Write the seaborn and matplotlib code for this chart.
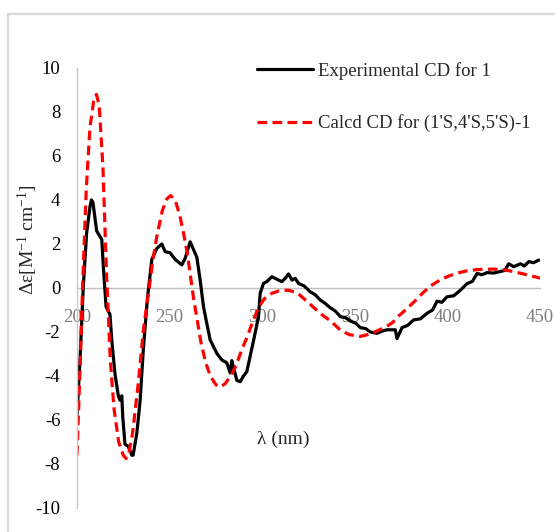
import numpy as np
import pandas as pd
import matplotlib
matplotlib.use("Agg")
import matplotlib.pyplot as plt
from matplotlib.lines import Line2D
import seaborn as sns

# ---- data ----
exp_wl = [200.0, 201.6, 203.4, 205.2, 207.0, 207.8, 208.6, 210.6, 213.4, 214.2, 215.7, 217.8,
          218.8, 220.5, 222.3, 223.2, 224.2, 224.7, 225.9, 227.7, 229.6, 230.3, 232.3, 234.1,
          235.8, 238.0, 240.4, 243.1, 245.8, 247.6, 250.3, 253.0, 256.6, 258.4, 261.1, 264.7,
          266.5, 268.3, 269.7, 271.9, 275.5, 278.2, 280.9, 282.7, 283.6, 284.5, 286.3, 288.1,
          289.9, 291.7, 293.5, 295.3, 298.0, 298.9, 300.7, 302.5, 305.2, 307.0, 308.8, 310.6,
          312.4, 314.2, 316.1, 317.8, 319.6, 322.5, 325.9, 328.5, 331.4, 334.0, 336.8, 339.5,
          342.2, 345.0, 347.6, 350.5, 353.0, 356.0, 358.4, 362.0, 365.0, 367.4, 371.9, 372.8,
          375.5, 378.5, 381.8, 385.5, 389.0, 392.0, 394.4, 397.0, 399.8, 403.5, 407.0, 410.6,
          413.5, 416.1, 418.5, 421.5, 425.0, 428.6, 431.0, 433.1, 435.8, 439.5, 441.5, 444.0,
          446.5, 449.4]
exp_de = [-5.8, -3.3, 0.06, 2.5, 3.7, 4.0, 3.9, 2.6, 2.2, 1.0, -0.85, -1.2,
          -2.4, -3.9, -4.9, -5.1, -4.9, -5.85, -7.1, -7.2, -7.6, -7.6, -6.6, -5.1,
          -2.8, -0.5, 1.3, 1.8, 2.0, 1.65, 1.6, 1.3, 1.05, 1.35, 2.1, 1.4,
          0.36, -0.85, -1.45, -2.36, -2.97, -3.27, -3.4, -3.86, -3.3, -3.6, -4.2, -4.26,
          -4.0, -3.8, -3.1, -2.4, -1.3, -0.24, 0.21, 0.29, 0.51, 0.44, 0.36, 0.29,
          0.44, 0.64, 0.36, 0.44, 0.21, 0.1, -0.17, -0.3, -0.55, -0.7, -0.9, -1.05,
          -1.3, -1.35, -1.5, -1.6, -1.8, -1.85, -2.0, -2.06, -1.95, -1.9, -1.9, -2.3,
          -1.8, -1.7, -1.45, -1.4, -1.15, -1.0, -0.6, -0.65, -0.4, -0.35, -0.1, 0.2,
          0.3, 0.67, 0.6, 0.7, 0.68, 0.75, 0.8, 1.1, 0.97, 1.1, 1.0, 1.2,
          1.15, 1.27]

calc_wl = [200, 201.5, 203, 205, 207, 209, 210.5, 212, 214, 216, 218, 220, 222.5, 225, 226.5,
           228, 230, 233, 236, 239, 241, 243, 246, 248.5, 250.5, 253, 255.5, 257.5, 259.5,
           261.5, 263, 265, 267, 269.5, 272, 275, 277.5, 280, 283, 286, 289, 292, 295, 298,
           301, 305, 309, 314, 319, 324, 328, 332, 337, 342, 347, 353, 358, 362, 366, 370,
           374, 378, 383, 387, 391, 396, 400, 405, 410, 416, 425, 431, 436, 442, 450]
calc_de = [-7.6, -4.0, 0.0, 4.5, 7.3, 8.5, 8.8, 8.3, 5.5, 0.5, -3.3, -5.5, -7.0, -7.6, -7.75,
           -7.5, -6.6, -4.4, -1.8, 0.0, 1.3, 2.3, 3.5, 4.05, 4.2, 4.0, 3.3, 2.5, 1.6,
           0.4, -0.5, -1.5, -2.5, -3.4, -4.0, -4.4, -4.5, -4.35, -4.0, -3.5, -2.8, -2.2, -1.5, -0.9,
           -0.5, -0.25, -0.13, -0.1, -0.22, -0.6, -0.9, -1.2, -1.5, -1.9, -2.12, -2.2, -2.1, -1.95, -1.8, -1.6,
           -1.25, -0.95, -0.55, -0.2, 0.1, 0.36, 0.52, 0.67, 0.77, 0.84, 0.86, 0.82, 0.74, 0.62, 0.45]

x_ticks = [200, 250, 300, 350, 400, 450]
y_ticks = [-10, -8, -6, -4, -2, 0, 2, 4, 6, 8, 10]
label_exp = "Experimental CD for 1"
label_calc = "Calcd CD for (1'S,4'S,5'S)-1"

sns.set_style("white")
plt.rcParams['font.family'] = ['Liberation Serif', 'DejaVu Serif']
plt.rcParams['mathtext.fontset'] = 'custom'
plt.rcParams['mathtext.rm'] = 'Liberation Serif'
plt.rcParams['mathtext.it'] = 'Liberation Serif:italic'
plt.rcParams['mathtext.bf'] = 'Liberation Serif:bold'

W, H = 555, 532
fig = plt.figure(figsize=(W / 100, H / 100), dpi=100)
ax = fig.add_axes([77 / W, (H - 508) / H, (540 - 77) / W, 440 / H])

df_exp = pd.DataFrame({"wl": exp_wl, "de": exp_de})
df_calc = pd.DataFrame({"wl": calc_wl, "de": calc_de})

sns.lineplot(data=df_exp, x="wl", y="de", ax=ax, color="black", linewidth=2.3,
             sort=False, label=label_exp)
sns.lineplot(data=df_calc, x="wl", y="de", ax=ax, color="#ff0000", linewidth=2.3,
             sort=False, label=label_calc)
ax.lines[1].set_dashes([3.0, 1.7])

ax.set_xlim(200, 450)
ax.set_ylim(-10, 10)
ax.set_xticks(x_ticks)
ax.set_yticks(y_ticks)
ax.set_yticklabels([str(v) for v in y_ticks])

for s in ["top", "right"]:
    ax.spines[s].set_visible(False)
ax.spines["left"].set_color("#c8c8c8")
ax.spines["left"].set_linewidth(1.0)
ax.spines["bottom"].set_position(("data", 0))
ax.spines["bottom"].set_color("#c0c0c0")
ax.spines["bottom"].set_linewidth(1.0)
ax.spines["bottom"].set_zorder(0)

ax.tick_params(axis="x", length=0, pad=15, labelsize=13.5, labelcolor="#7f7f7f")
ax.tick_params(axis="y", length=0, pad=12, labelsize=13.5, labelcolor="black")

ax.set_xlabel("")
ax.set_ylabel(r"Δε[M$^{\mathrm{-1}}$ cm$^{\mathrm{-1}}$]", fontsize=14)
ax.yaxis.set_label_coords((40 - 77) / (540 - 77), (508 - 240) / 440)

ax.text(297.3, -6.9, "λ (nm)", fontsize=14, ha="left", va="center")

leg = ax.legend(loc="upper left", bbox_to_anchor=(257 / W, 1 - 62 / H),
                bbox_transform=fig.transFigure, frameon=False, fontsize=13.5,
                handlelength=3.0, handletextpad=0.25, labelspacing=1.85,
                borderaxespad=0, borderpad=0)

# chart-area border (top and left)
fig.add_artist(Line2D([8 / W, 8 / W], [0, 1 - 14 / H], transform=fig.transFigure,
                      color="#d9d9d9", linewidth=1.6))
fig.add_artist(Line2D([8 / W, 1], [1 - 14 / H, 1 - 14 / H], transform=fig.transFigure,
                      color="#d9d9d9", linewidth=1.6))

fig.savefig("out.png", dpi=100)
